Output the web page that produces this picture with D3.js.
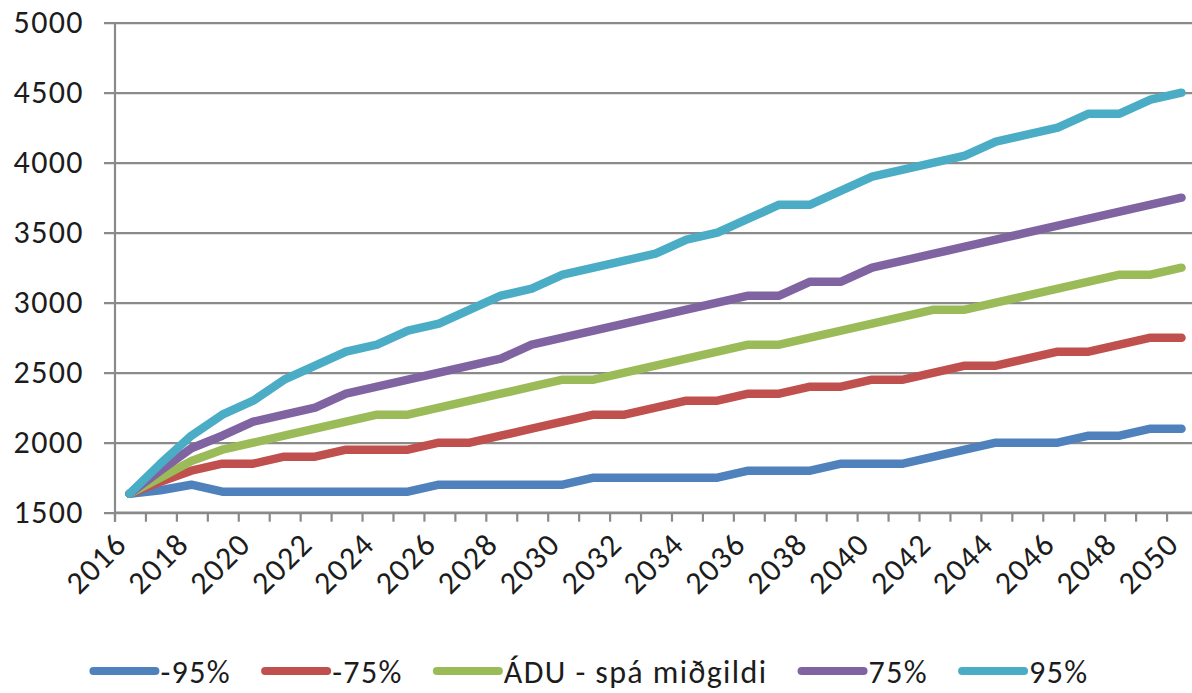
<!DOCTYPE html>
<html>
<head>
<meta charset="utf-8">
<script src="https://cdn.jsdelivr.net/npm/d3@7"></script>
<style>
  html, body { margin: 0; padding: 0; background: #fff; }
  svg { display: block; }
  text { font-family: Carlito, Lato, "Open Sans", sans-serif; fill: #1c1c1c; }
</style>
</head>
<body>
<svg id="chart" width="1192" height="693"></svg>
<script>
// Years on the category axis
const years = [2016, 2017, 2018, 2019, 2020, 2021, 2022, 2023, 2024, 2025,
               2026, 2027, 2028, 2029, 2030, 2031, 2032, 2033, 2034, 2035,
               2036, 2037, 2038, 2039, 2040, 2041, 2042, 2043, 2044, 2045,
               2046, 2047, 2048, 2049, 2050];

// Forecast bands
const lower95 = [1635, 1660, 1700, 1650, 1650, 1650, 1650, 1650, 1650, 1650,
                 1700, 1700, 1700, 1700, 1700, 1750, 1750, 1750, 1750, 1750,
                 1800, 1800, 1800, 1850, 1850, 1850, 1900, 1950, 2000, 2000,
                 2000, 2050, 2050, 2100, 2100];
const lower75 = [1635, 1720, 1800, 1850, 1850, 1900, 1900, 1950, 1950, 1950,
                 2000, 2000, 2050, 2100, 2150, 2200, 2200, 2250, 2300, 2300,
                 2350, 2350, 2400, 2400, 2450, 2450, 2500, 2550, 2550, 2600,
                 2650, 2650, 2700, 2750, 2750];
const median  = [1635, 1750, 1870, 1950, 2000, 2050, 2100, 2150, 2200, 2200,
                 2250, 2300, 2350, 2400, 2450, 2450, 2500, 2550, 2600, 2650,
                 2700, 2700, 2750, 2800, 2850, 2900, 2950, 2950, 3000, 3050,
                 3100, 3150, 3200, 3200, 3250];
const upper75 = [1635, 1800, 1960, 2050, 2150, 2200, 2250, 2350, 2400, 2450,
                 2500, 2550, 2600, 2700, 2750, 2800, 2850, 2900, 2950, 3000,
                 3050, 3050, 3150, 3150, 3250, 3300, 3350, 3400, 3450, 3500,
                 3550, 3600, 3650, 3700, 3750];
const upper95 = [1635, 1850, 2050, 2200, 2300, 2450, 2550, 2650, 2700, 2800,
                 2850, 2950, 3050, 3100, 3200, 3250, 3300, 3350, 3450, 3500,
                 3600, 3700, 3700, 3800, 3900, 3950, 4000, 4050, 4150, 4200,
                 4250, 4350, 4350, 4450, 4500];

const seriesNames  = ["-95%", "-75%", "ÁDU - spá miðgildi", "75%", "95%"];
const seriesValues = [lower95, lower75, median, upper75, upper95];
const seriesColors = ["#4f81bd", "#c0504d", "#9bbb59", "#8064a2", "#4bacc6"];

const yTicks = [1500, 2000, 2500, 3000, 3500, 4000, 4500, 5000];
const xTickLabels = years.filter(y => y % 2 === 0);

const svg = d3.select("#chart");
const plot = { left: 114, right: 1197, top: 22.7, bottom: 512.7 };
const gridColor = "#8a8a8a";
const fontSize = "32px";
const spacing = "1.4px";

const x = d3.scaleBand().domain(years).range([plot.left, plot.right]).padding(0);
const y = d3.scaleLinear().domain([1500, 5000]).range([plot.bottom, plot.top]);

// Horizontal gridlines + y axis labels
const yAxis = d3.axisLeft(y)
  .tickValues(yTicks)
  .tickSize(-(plot.right - plot.left) - 11)
  .tickPadding(31)
  .tickFormat(d3.format("d"));

const gy = svg.append("g")
  .attr("transform", `translate(${plot.left + 1},0)`)
  .call(yAxis);
gy.select(".domain").remove();
gy.selectAll(".tick line")
  .attr("x1", -11)
  .attr("x2", plot.right - plot.left + 20)
  .attr("stroke", gridColor)
  .attr("stroke-width", 2.2);
gy.selectAll(".tick text")
  .style("font-size", fontSize)
  .style("letter-spacing", spacing)
  .attr("fill", "#1c1c1c");

// Vertical axis line
svg.append("line")
  .attr("x1", plot.left + 1).attr("x2", plot.left + 1)
  .attr("y1", plot.top).attr("y2", plot.bottom + 9)
  .attr("stroke", gridColor).attr("stroke-width", 2.2);

// Category axis: tick marks on the band boundaries
const bw = x.bandwidth();
const gx = svg.append("g");
gx.append("line")
  .attr("x1", plot.left).attr("x2", 1192)
  .attr("y1", plot.bottom).attr("y2", plot.bottom)
  .attr("stroke", gridColor).attr("stroke-width", 2.2);
gx.selectAll("line.tick")
  .data(years.concat([null]))
  .join("line")
  .attr("class", "tick")
  .attr("x1", (d, i) => plot.left + 1 + i * bw)
  .attr("x2", (d, i) => plot.left + 1 + i * bw)
  .attr("y1", plot.bottom)
  .attr("y2", plot.bottom + 9)
  .attr("stroke", gridColor).attr("stroke-width", 2.2);

// Rotated year labels, every second year
gx.selectAll("text.year")
  .data(xTickLabels)
  .join("text")
  .attr("class", "year")
  .attr("text-anchor", "end")
  .attr("dy", "0.72em")
  .attr("transform", d => `translate(${x(d) + bw / 2 - 17},${plot.bottom + 17}) rotate(-45)`)
  .style("font-size", fontSize)
  .style("letter-spacing", spacing)
  .text(d => d);

// Series lines
const line = d3.line()
  .x((d, i) => x(years[i]) + bw / 2)
  .y(d => y(d));

svg.append("g").selectAll("path")
  .data(seriesValues)
  .join("path")
  .attr("d", d => line(d))
  .attr("fill", "none")
  .attr("stroke", (d, i) => seriesColors[i])
  .attr("stroke-width", 8.5)
  .attr("stroke-linejoin", "round")
  .attr("stroke-linecap", "round");

// Legend, laid out left to right and centred under the chart
const legend = svg.append("g");
const ly = 671;
const keyLen = 66, keyGap = 5, itemGap = 30;
let lx = 0;
seriesNames.forEach((name, i) => {
  legend.append("line")
    .attr("x1", lx + 4).attr("x2", lx + keyLen)
    .attr("y1", ly).attr("y2", ly)
    .attr("stroke", seriesColors[i])
    .attr("stroke-width", 8)
    .attr("stroke-linecap", "round");
  const t = legend.append("text")
    .attr("x", lx + keyLen + keyGap)
    .attr("y", ly)
    .attr("dy", "0.36em")
    .style("font-size", fontSize)
    .style("letter-spacing", spacing)
    .text(name);
  lx = lx + keyLen + keyGap + t.node().getComputedTextLength() + itemGap;
});
const legendWidth = lx - itemGap;
legend.attr("transform", `translate(${589 - legendWidth / 2},0)`);
</script>
</body>
</html>
